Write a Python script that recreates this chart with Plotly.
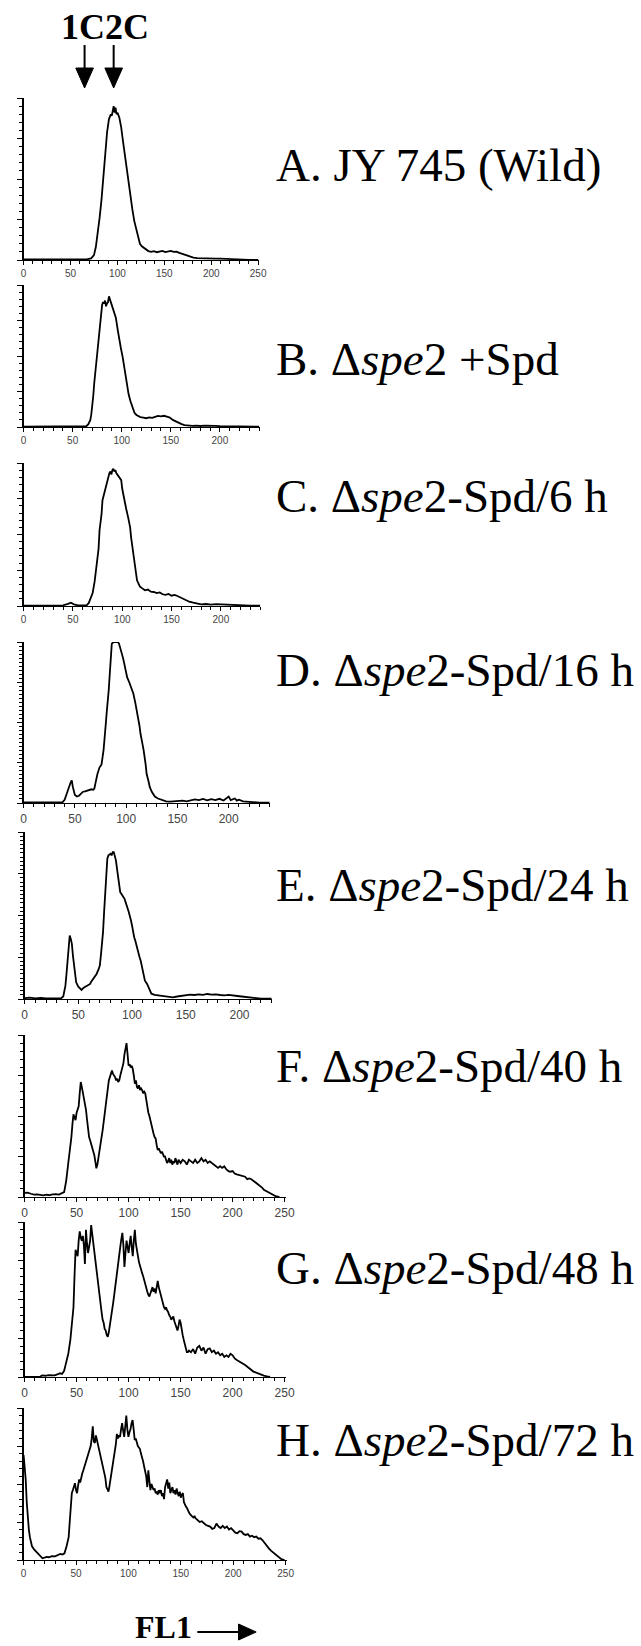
import plotly.graph_objects as go

W, H = 641, 1646

# ---------------- data (FL1 channel, relative count %) ----------------
A_x = [0, 10, 20, 30, 40, 50, 60, 68, 72, 75, 77, 79, 81, 83, 85, 87, 89, 91, 93, 94, 95, 96, 97, 98, 99,
       100, 102, 104, 106, 108, 110, 112, 114, 116, 118, 120, 122, 124, 126, 128, 130, 133, 136, 139, 142,
       145, 148, 151, 154, 157, 160, 163, 166, 169, 172, 175, 178, 181, 185, 190, 195, 200, 205, 210, 215,
       220, 225, 230, 240, 250]
A_y = [0.3, 0.4, 0.3, 0.5, 0.4, 0.3, 0.4, 0.5, 1, 3, 8, 16, 26, 37, 53, 66, 79, 87, 90, 89, 93, 95, 91, 94, 90,
       91, 88, 82, 73, 64, 56, 48, 40, 31, 24, 19, 14, 10, 8.5, 7.5, 7, 5.5, 5, 5.5, 4.8,
       5.2, 5.6, 4.9, 5.3, 5.6, 5, 5.2, 4.4, 3.8, 3.2, 2.6, 2, 1.5, 1.2, 1, 0.9, 1, 0.8, 0.9, 0.7,
       0.6, 0.5, 0.3, 0.1, 0]

B_x = [0, 10, 20, 30, 40, 50, 60, 64, 66, 68, 69, 70, 71, 72, 74, 76, 78, 79, 80, 81, 82, 83, 84, 85, 86, 87,
       88, 89, 90, 91, 92, 94, 96, 97, 99, 101, 103, 104, 106, 107, 109, 111, 113, 115, 117, 119, 122, 125,
       128, 131, 134, 137, 140, 143, 146, 149, 152, 155, 158, 161, 164, 168, 172, 176, 180, 185, 190, 195,
       200, 210, 220, 230, 240]
B_y = [0.3, 0.3, 0.4, 0.3, 0.4, 0.3, 0.4, 0.6, 2, 5, 9, 14, 22, 31, 46, 61, 74, 82, 86, 88, 87, 89, 85, 87, 88, 92,
       90, 87, 85, 83, 82, 77, 68, 63, 56, 49, 40, 35, 28, 23, 18, 14, 10, 8.5, 7.5, 7, 6.6, 6.2,
       6.8, 6.5, 7.2, 7.8, 7.5, 7.9, 7.3, 6.6, 5, 3.8, 3, 2, 1.3, 1, 0.8, 1, 0.7, 0.9, 0.6, 0.8,
       0.6, 0.5, 0.5, 0.3, 0.2]

C_x = [0, 10, 20, 30, 40, 45, 48, 51, 55, 60, 64, 66, 68, 70, 72, 74, 76, 77, 79, 80, 82, 84, 86, 87, 88, 89,
       90, 91, 92, 93, 94, 95, 97, 99, 100, 102, 104, 106, 108, 109, 111, 112, 114, 115, 117, 118, 120, 123,
       126, 129, 132, 135, 138, 141, 144, 147, 150, 153, 156, 159, 162, 165, 168, 172, 176, 180, 185, 190,
       195, 200, 205, 210, 215, 220, 230, 240]
C_y = [0.3, 0.3, 0.4, 0.3, 0.5, 1.5, 2.3, 1.2, 0.5, 0.4, 0.6, 2, 5, 9, 17, 27, 40, 53, 64, 74, 80, 86, 90, 93, 94, 92,
       95, 96, 94, 95, 93, 92, 90, 88, 82, 74, 68, 62, 55, 48, 38, 32, 24, 18, 15, 13.5, 12.5, 11,
       11.5, 10, 9.8, 9, 9.5, 8.2, 7.8, 8.4, 7.2, 7.8, 7, 6, 5, 4, 3, 2.3, 1.6, 1.2, 1.4, 1,
       1.3, 1.1, 1.3, 1, 0.6, 0.3, 0.2, 0.2]

D_x = [0, 10, 20, 30, 35, 38, 40, 42, 44, 46, 47, 48, 50, 52, 54, 56, 58, 60, 62, 64, 66, 68, 69, 70, 71, 72,
       74, 76, 78, 79, 80, 81, 82, 83, 84, 85, 86, 88, 90, 92, 93, 95, 97, 98, 99, 101, 103, 105, 107, 109,
       111, 113, 114, 116, 117, 119, 120, 122, 123, 125, 128, 131, 133, 136, 139, 143, 147, 151, 155, 159,
       163, 167, 171, 175, 179, 183, 187, 191, 195, 198, 200, 202, 206, 208, 210, 214, 218, 222, 230, 240]
D_y = [0.3, 0.3, 0.4, 0.6, 0.3, 0.5, 2, 6, 10, 13, 14, 10, 5, 4, 4.5, 6, 7, 7.2, 7.5, 8, 8.5, 8.2, 9, 12, 16, 18,
       22, 24, 33, 39, 48, 56, 62, 70, 80, 92, 99, 100, 100, 100, 99, 95, 90, 87, 84, 78, 75, 71, 68, 62,
       56, 48, 43, 37, 33, 24, 18, 13, 10, 7, 4, 2.8, 2.3, 1.5, 1, 0.8, 1, 1.2, 1.5, 1,
       1.8, 2.2, 1.8, 2.5, 1.6, 2.4, 1.8, 2.6, 1.5, 2.8, 4, 1.8, 2.8, 1.5, 2, 1, 0.8, 0.3, 0.2, 0.2]

E_x = [0, 5, 10, 15, 20, 25, 30, 34, 36, 38, 39, 40, 41, 42, 43, 44, 45, 46, 47, 48, 50, 52, 53, 55, 57, 59,
       61, 62, 64, 66, 67, 69, 70, 71, 72, 73, 74, 75, 76, 77, 78, 80, 81, 82, 83, 84, 85, 86, 87, 88, 89,
       90, 91, 92, 93, 94, 95, 96, 97, 98, 99, 100, 101, 102, 103, 104, 105, 106, 107, 108, 110, 112, 114,
       116, 118, 121, 124, 127, 130, 134, 138, 142, 146, 150, 154, 158, 162, 166, 170, 174, 178, 182, 186,
       190, 194, 198, 202, 206, 210, 213, 220, 230]
E_y = [0.5, 0.8, 0.4, 0.6, 0.3, 0.5, 0.4, 0.5, 1.5, 8, 15, 24, 31, 38, 36, 33, 26, 20, 14, 10, 7.4, 6, 5.4, 6.8, 7.4, 8,
       9, 10.4, 12, 14, 15, 18, 20, 26, 33, 40, 52, 65, 76, 84, 86, 87, 86, 88, 88, 86, 83, 78, 74, 68, 64,
       63, 62, 61, 60, 58, 55, 54, 52, 50, 47, 44, 40, 37, 35, 32, 30, 27, 25, 23, 16, 11, 9,
       6, 3.2, 2.5, 2.2, 2, 1.5, 1.2, 1, 1.5, 2, 2.2, 2.6, 2.4, 2.8, 2.5, 3, 2.6, 2.8, 2.4, 2.2,
       2.5, 2, 1.8, 1.5, 1.2, 1, 0.4, 0.2, 0.2]

F_x = [0, 3, 6, 9, 12, 15, 18, 21, 24, 27, 30, 33, 36, 38, 39, 40, 42, 44, 45, 46, 47, 48, 49, 50, 51, 52, 53,
       54, 55, 56, 57, 58, 59, 60, 61, 62, 63, 64, 65, 66, 67, 68, 69, 70, 71, 72, 73, 74, 75, 76, 77, 78,
       79, 80, 81, 82, 83, 84, 85, 86, 87, 88, 89, 90, 91, 92, 93, 94, 95, 96, 97, 98, 99, 100, 101, 102,
       103, 104, 105, 106, 107, 108, 109, 110, 111, 112, 113, 114, 115, 116, 117, 118, 119, 120, 121, 122,
       123, 124, 125, 126, 127, 128, 129, 130, 131, 132, 133, 134, 135, 136, 137, 138, 139, 140, 141, 142,
       143, 144, 145, 146, 147, 148, 149, 150, 152, 154, 156, 158, 160, 162, 164, 166, 168, 170, 172, 174,
       176, 178, 180, 182, 184, 186, 188, 190, 192, 194, 196, 198, 200, 202, 204, 206, 208, 210, 212, 214,
       216, 218, 220, 222, 224, 226, 228, 230, 232, 234, 236, 238, 240, 242, 245]
F_y = [2.5, 2.7, 2, 1.5, 1.6, 1.2, 1, 1.4, 1.2, 1.6, 1.8, 1.5, 2.3, 3, 6.4, 10, 21, 30, 37, 45, 51, 49, 47.5, 52, 55, 56, 64,
       71, 68, 65, 62, 58, 54, 48, 42, 37, 35, 33, 30, 29, 26, 22, 17.7, 20, 25, 29, 33, 37, 41, 46, 52, 56,
       63, 68, 72, 74, 77, 78, 76, 75, 74, 72, 73, 71, 72, 75, 78, 80, 82.5, 88, 92, 95, 88, 81, 82, 80,
       81, 79, 75, 70, 72, 68, 67, 69, 66, 67, 66, 64, 65, 64, 60, 55, 52, 50, 47, 43,
       42, 39, 37, 36, 32, 29, 30, 28, 27, 28, 26, 25, 25, 23, 21, 22, 24, 21, 23, 20,
       22, 21, 24, 22, 20, 23, 22, 21, 23, 22, 20, 23, 22, 21, 23, 21, 22, 24, 22, 23,
       21, 22, 21, 20, 19, 18, 19, 18, 19, 17, 16, 15.6, 16, 14.5, 14, 13.6, 13, 12.5, 12.5, 11,
       11.5, 11, 10, 9, 8, 7.4, 6, 4.5, 3.8, 3, 2, 1.5, 1, 0.3, 0]

G_x = [0, 5, 10, 15, 17, 20, 23, 26, 29, 32, 34, 36, 38, 39, 40, 42, 44, 45, 46, 47, 48, 49, 50, 51, 52, 53, 54,
       55, 56, 57, 58, 59, 60, 61, 62, 63, 64, 65, 66, 67, 68, 69, 70, 71, 72, 73, 74, 75, 76, 77, 78, 79,
       80, 81, 82, 83, 84, 85, 86, 87, 88, 89, 90, 91, 92, 93, 94, 95, 96, 97, 98, 99, 100, 101, 102, 103,
       104, 105, 106, 107, 108, 109, 110, 111, 112, 113, 114, 115, 116, 117, 118, 119, 120, 121, 122, 123,
       124, 125, 126, 127, 128, 129, 130, 131, 132, 133, 134, 135, 136, 137, 138, 139, 140, 141, 142, 143,
       144, 145, 146, 147, 148, 149, 150, 151, 152, 153, 154, 155, 156, 157, 158, 160, 162, 164, 166, 168,
       170, 172, 174, 176, 178, 180, 182, 184, 186, 188, 190, 192, 194, 196, 198, 200, 202, 204, 206, 208,
       210, 212, 214, 216, 218, 220, 222, 224, 226, 228, 230, 233, 236]
G_y = [0, 0, 0, 0.3, 1, 0.8, 1.2, 1.3, 1, 1.8, 2.4, 2, 4, 6.7, 9, 15, 24, 30, 38, 45, 65, 82, 80, 78, 88, 94, 90,
       88, 91, 85, 73, 95, 86, 80, 84, 88, 98, 92, 86, 80, 75, 71, 64, 58, 52, 47, 42, 37, 35, 31, 30, 27,
       26, 29, 33, 39, 43, 47, 52, 58, 63, 69, 75, 80, 84, 89, 93, 85, 71, 80, 88, 84, 80, 86, 91, 84,
       78, 88, 95, 86, 80, 78, 74, 71, 69, 67, 65, 62, 60, 56, 55, 53, 52, 54, 56, 58,
       55, 57, 54, 59, 62, 58, 55, 52, 50, 47, 45, 44, 45, 43, 42, 40, 39, 37, 38, 39,
       36, 34, 32, 30, 33, 37, 35, 30, 27, 24, 21, 18, 16, 16, 17, 16, 18, 15, 19, 20,
       17, 19, 15, 18, 18.5, 16, 17, 15, 16, 14, 15, 13, 14, 13, 15, 14, 12, 11, 10, 9,
       8.5, 7.7, 6.5, 5.5, 4.5, 3.5, 3, 2.4, 1.8, 1.2, 0.9, 0.4, 0]

H_x = [0, 1, 2, 3, 4, 5, 6, 7, 8, 10, 12, 14, 16, 18, 20, 22, 24, 27, 30, 33, 35, 37, 39, 41, 43, 44, 45, 46, 47,
       48, 49, 50, 51, 52, 53, 54, 55, 56, 57, 58, 59, 60, 61, 62, 63, 64, 65, 66, 67, 68, 69, 70, 71, 72,
       73, 74, 75, 76, 77, 78, 79, 80, 81, 82, 83, 84, 85, 86, 87, 88, 89, 90, 91, 92, 93, 94, 95, 96, 97,
       98, 99, 100, 101, 102, 103, 104, 105, 106, 107, 108, 109, 110, 111, 112, 113, 114, 115, 116, 117,
       118, 119, 120, 121, 122, 123, 124, 125, 126, 127, 128, 129, 130, 131, 132, 133, 134, 135, 136, 137,
       138, 139, 140, 141, 142, 143, 144, 145, 146, 147, 148, 149, 150, 151, 152, 153, 154, 155, 156, 157,
       158, 159, 160, 161, 162, 163, 164, 166, 168, 170, 172, 174, 176, 178, 180, 182, 184, 186, 188, 190,
       192, 194, 196, 198, 200, 202, 204, 206, 208, 210, 212, 214, 216, 218, 220, 222, 224, 226, 228, 230,
       232, 234, 236, 238, 240, 242, 244, 246, 249]
H_y = [69, 62, 53, 38, 26, 20, 15, 11, 9, 7, 5.5, 4, 2.5, 1.1, 1.5, 2, 1.8, 2.6, 2.4, 3.5, 4, 3.6, 4.4, 9, 15, 25, 35, 44, 46,
       48, 50.5, 46, 44, 49, 53, 51, 55, 57, 59, 61.5, 63, 65, 68, 71, 73, 75, 80, 88, 78, 77, 82, 79, 76, 74,
       71, 68, 65, 62, 57, 54, 48, 46, 45, 49, 53, 57, 62, 68, 72, 76, 83, 80, 82, 81, 86, 90, 85, 81, 88,
       95, 86, 81, 84, 86, 90, 92, 86, 79, 80, 77, 75, 74, 73, 70, 68, 65, 61.5, 58, 55,
       48, 59, 52, 46, 50, 48, 46, 47, 44, 45, 43, 46, 44, 46, 42, 44, 40, 48, 50, 53,
       47, 51, 44, 47, 48, 44, 46, 43, 47, 44, 42, 45, 41, 43, 44, 38, 36, 35, 34, 32,
       31, 30, 29, 28.5, 28, 29, 27.5, 26, 25, 25.5, 24, 23, 22.5, 22, 20.5, 21, 24, 22, 21, 22.5,
       21, 22, 20, 21, 19.5, 18, 17.6, 19, 18.7, 17, 16.5, 17, 15.4, 16, 15, 15.4, 14, 14.3, 13, 11,
       9.5, 7.7, 6.2, 5, 4, 2.6, 1.1, 0.5, 0]

series_x = [A_x, B_x, C_x, D_x, E_x, F_x, G_x, H_x]
series_y = [A_y, B_y, C_y, D_y, E_y, F_y, G_y, H_y]

panel_labels = [
    "A. JY 745 (Wild)",
    "B. Δ<i>spe</i>2 +Spd",
    "C. Δ<i>spe</i>2-Spd/6 h",
    "D. Δ<i>spe</i>2-Spd/16 h",
    "E. Δ<i>spe</i>2-Spd/24 h",
    "F. Δ<i>spe</i>2-Spd/40 h",
    "G. Δ<i>spe</i>2-Spd/48 h",
    "H. Δ<i>spe</i>2-Spd/72 h",
]
axis_max = [251, 241, 240, 240, 230, 251, 251, 251]
tick_label_max = [250, 200, 200, 200, 200, 250, 250, 250]
ploidy_marks = ["1C", "2C"]
ploidy_pos = [65, 96]
x_title = "FL1"

# ---------------- layout geometry (pixels) ----------------
x0_px = [21, 21, 21, 21, 22, 22, 22, 21]
px_per_unit = [0.956, 1.0, 1.005, 1.045, 1.095, 1.06, 1.06, 1.068]
top_px = [98, 285, 463, 642, 832, 1035, 1222, 1408]
base_px = [260, 427, 606, 803, 999, 1197, 1377, 1560]
label_base_px = [181, 375, 512, 686, 901, 1082, 1284, 1456]
tick_font = [10, 10, 10, 12, 12, 12, 12, 10]
minor_y = [5, 5, 5, 2.5, 2.5, 5, 5, 5]

fig = go.Figure()
layout = dict(
    width=W, height=H, margin=dict(l=0, r=0, t=0, b=0),
    paper_bgcolor="white", plot_bgcolor="white", showlegend=False,
)
annotations = []
shapes = []

for i in range(8):
    n = i + 1
    xs = "" if n == 1 else str(n)
    fig.add_trace(go.Scatter(
        x=series_x[i], y=series_y[i], mode="lines",
        line=dict(color="black", width=1.8),
        xaxis="x" + xs, yaxis="y" + xs, hoverinfo="skip",
    ))
    xd0 = x0_px[i] / W
    xd1 = (x0_px[i] + axis_max[i] * px_per_unit[i]) / W
    layout["xaxis" + xs] = dict(
        domain=[xd0, xd1], range=[0, axis_max[i]], anchor="y" + xs,
        showline=True, linecolor="black", linewidth=1.4,
        ticks="outside", ticklen=4, tickwidth=1, tickcolor="black",
        tickmode="array",
        tickvals=list(range(0, tick_label_max[i] + 1, 50)),
        ticktext=[str(v) for v in range(0, tick_label_max[i] + 1, 50)],
        tickfont=dict(family="Liberation Sans", size=tick_font[i], color="#444"),
        minor=dict(tickmode="linear", tick0=0, dtick=10, ticks="outside", ticklen=3,
                   tickwidth=1, tickcolor="black"),
        showgrid=False, zeroline=False, fixedrange=True,
    )
    layout["yaxis" + xs] = dict(
        domain=[1 - base_px[i] / H, 1 - top_px[i] / H], range=[0, 100], anchor="x" + xs,
        showline=True, linecolor="black", linewidth=1.4,
        ticks="outside", ticklen=5, tickwidth=1, tickcolor="black",
        tick0=0, dtick=25, showticklabels=False,
        minor=dict(dtick=minor_y[i], ticks="outside", ticklen=3, tickwidth=1, tickcolor="black"),
        showgrid=False, zeroline=False, fixedrange=True,
    )
    annotations.append(dict(
        text=panel_labels[i], xref="paper", yref="paper",
        x=276 / W, y=1 - (label_base_px[i] - 16) / H,
        xanchor="left", yanchor="middle", showarrow=False,
        font=dict(family="Liberation Serif", size=47, color="black"),
    ))

# 1C / 2C header with arrows over panel A
annotations.append(dict(
    text="<b>" + "".join(ploidy_marks) + "</b>", xref="paper", yref="paper",
    x=103.5 / W, y=1 - 27.5 / H, xanchor="center", yanchor="middle", showarrow=False,
    font=dict(family="Liberation Serif", size=36, color="black"),
))
hw = 9.4
for v in ploidy_pos:
    shapes.append(dict(type="line", xref="x", yref="paper", x0=v, x1=v,
                       y0=1 - 45 / H, y1=1 - 70 / H, line=dict(color="black", width=2)))
    shapes.append(dict(type="path", xref="x", yref="paper",
                       path=f"M {v - hw},{1 - 68 / H} L {v + hw},{1 - 68 / H} L {v},{1 - 88 / H} Z",
                       fillcolor="black", line=dict(color="black", width=1)))

# FL1 label with arrow
annotations.append(dict(
    text="<b>" + x_title + "</b>", xref="paper", yref="paper",
    x=163.5 / W, y=1 - 1627 / H, xanchor="center", yanchor="middle", showarrow=False,
    font=dict(family="Liberation Serif", size=32, color="black"),
))
shapes.append(dict(type="line", xref="paper", yref="paper", x0=198 / W, x1=242 / W,
                   y0=1 - 1632 / H, y1=1 - 1632 / H, line=dict(color="black", width=2)))
shapes.append(dict(type="path", xref="paper", yref="paper",
                   path=f"M {240 / W},{1 - 1624 / H} L {240 / W},{1 - 1640 / H} L {258 / W},{1 - 1632 / H} Z",
                   fillcolor="black", line=dict(color="black", width=1)))

layout["annotations"] = annotations
layout["shapes"] = shapes
fig.update_layout(**layout)
fig.write_html(
    "out.html",
    config={"displayModeBar": False, "staticPlot": True},
    post_script="document.body.style.margin='0px';document.body.style.overflow='hidden';",
)
